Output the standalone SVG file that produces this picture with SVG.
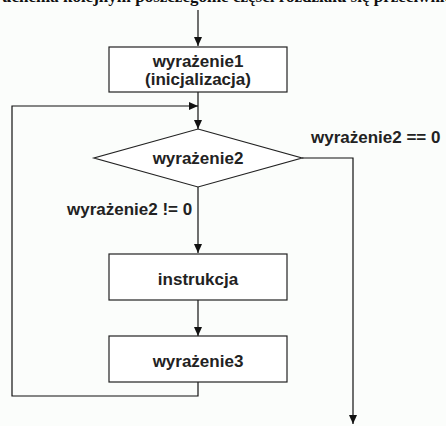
<svg xmlns="http://www.w3.org/2000/svg" width="446" height="426" viewBox="0 0 446 426">
<style>
.bg{fill:#fbfdfb}
.box{fill:#ffffff;stroke:#222;stroke-width:1.2}
.ln{fill:none;stroke:#111;stroke-width:1.2}
.t{font-family:"Liberation Sans",Arial,sans-serif;font-weight:bold;font-size:17px;fill:#222;text-anchor:middle}
.lbl{font-family:"Liberation Sans",Arial,sans-serif;font-weight:bold;font-size:17px;fill:#222}
.top{font-family:"Liberation Serif","Times New Roman",serif;font-weight:bold;font-size:17px;fill:#111}
</style>
<defs>
<marker id="arr" markerWidth="10" markerHeight="8" refX="9" refY="4" orient="auto" markerUnits="userSpaceOnUse">
<path d="M0,0 L9,4 L0,8 Z" fill="#111"/>
</marker>
</defs>
<rect class="bg" x="0" y="0" width="446" height="426"/>
<text class="top" x="2" y="2">uchenia kolejnym poszczególne części rozdziału się przeciwnie</text>
<g id="connectors">
<line class="ln" x1="198" y1="10" x2="198" y2="46" marker-end="url(#arr)"/>
<line class="ln" x1="198" y1="92" x2="198" y2="129" marker-end="url(#arr)"/>
<polyline class="ln" points="198,382 198,396 12,396 12,106 198,106" marker-end="url(#arr)"/>
<line class="ln" x1="198" y1="187" x2="198" y2="253" marker-end="url(#arr)"/>
<line class="ln" x1="198" y1="300" x2="198" y2="336" marker-end="url(#arr)"/>
<polyline class="ln" points="302,158 353,158 353,424" marker-end="url(#arr)"/>
</g>
<g id="init">
<rect class="box" x="109" y="47" width="178" height="45"/>
<text class="t" x="198" y="67">wyrażenie1</text>
<text class="t" x="198" y="85">(inicjalizacja)</text>
</g>
<g id="cond">
<polygon class="box" points="198,129 302,158 198,187 94,158"/>
<text class="t" x="198" y="164">wyrażenie2</text>
</g>
<g id="body">
<rect class="box" x="109" y="254" width="178" height="46"/>
<text class="t" x="198" y="285">instrukcja</text>
</g>
<g id="step">
<rect class="box" x="109" y="336" width="178" height="46"/>
<text class="t" x="198" y="367">wyrażenie3</text>
</g>
<g id="labels">
<text class="lbl" x="311" y="143">wyrażenie2 == 0</text>
<text class="lbl" x="67" y="215">wyrażenie2 != 0</text>
</g>
</svg>
